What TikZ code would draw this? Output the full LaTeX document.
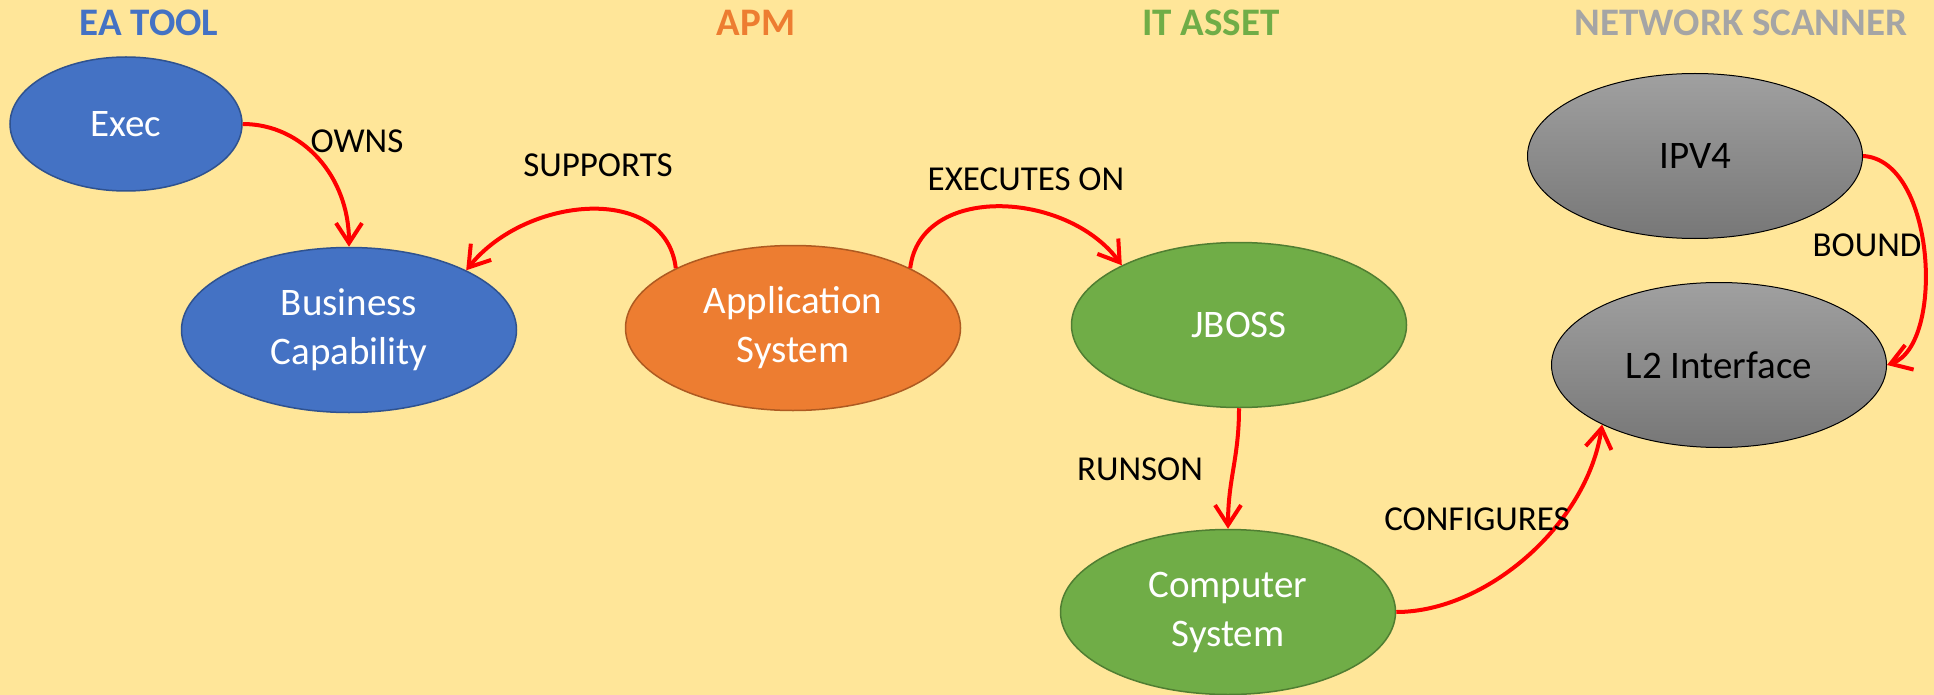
\documentclass[tikz,border=0pt]{standalone}
\usepackage{fontspec}
\setmainfont{Carlito}
\usetikzlibrary{shapes.geometric,arrows.meta}
\definecolor{bg}{HTML}{FFE699}
\definecolor{eblue}{HTML}{4472C4}
\definecolor{eblueb}{HTML}{2F528F}
\definecolor{eorange}{HTML}{ED7D31}
\definecolor{eorangeb}{HTML}{AE5A21}
\definecolor{egreen}{HTML}{70AD47}
\definecolor{egreenb}{HTML}{507E32}
\definecolor{egray}{HTML}{A5A5A5}
\definecolor{gtop}{HTML}{A0A0A0}
\definecolor{gbot}{HTML}{777777}
\begin{document}
\begin{tikzpicture}[x=1pt,y=-1pt,
  ent/.style={ellipse, inner sep=0pt, minimum width=335pt, minimum height=165pt,
    line width=1.5pt, align=center, font=\fontsize{39}{49}\selectfont, text=white},
  blueent/.style={ent, fill=eblue, draw=eblueb},
  orangeent/.style={ent, fill=eorange, draw=eorangeb},
  greenent/.style={ent, fill=egreen, draw=egreenb},
  grayent/.style={ent, top color=gtop, bottom color=gbot, draw=black, line width=1pt, text=black},
  rel/.style={draw=red, line width=4pt, -{Straight Barb[length=20pt,width=26pt]}},
  rellabel/.style={anchor=base, font=\fontsize{35}{42}\selectfont, inner sep=0pt},
  title/.style={anchor=base, font=\fontsize{39}{47}\selectfont\bfseries, inner sep=0pt}
]
\fill[bg] (0,0) rectangle (1934,695);
\useasboundingbox (0,0) rectangle (1934,695);

\node[title, text=eblue] (t1) at (149,36) {EA TOOL};
\node[title, text=eorange] (t2) at (756,36) {APM};
\node[title, text=egreen] (t3) at (1211,36) {IT ASSET};
\node[title, text=egray] (t4) at (1741,36) {NETWORK SCANNER};

\node[blueent, minimum width=232pt, minimum height=134pt] (exec) at (126,124) {Exec};
\node[blueent] (bc) at (349,330) {Business\\Capability};
\node[orangeent] (app) at (793,328) {Application\\System};
\node[greenent] (jb) at (1239,325) {JBOSS};
\node[greenent] (cs) at (1228,612) {Computer\\System};
\node[grayent] (ip) at (1695,156) {IPV4};
\node[grayent] (l2) at (1719,365) {L2 Interface};

\draw[rel] (exec.east) .. controls +(60,0) and +(0,-70) .. (bc.north);
\draw[rel] (app.153) .. controls +(-10,-85) and +(60,-75) .. (bc.27);
\draw[rel] (app.27) .. controls +(10,-85) and +(-55,-75) .. (jb.153);
\draw[rel] (jb.south) .. controls +(0,50) and +(0,-50) .. (cs.north);
\draw[rel] (cs.east) .. controls +(90,0) and +(-15,100) .. (l2.207);
\draw[rel] (ip.east) .. controls +(73,4) and +(58,-20) .. (l2.east);

\node[rellabel] (owns) at (357,153) {OWNS};
\node[rellabel] (supports) at (598,177) {SUPPORTS};
\node[rellabel] (execon) at (1026,190) {EXECUTES ON};
\node[rellabel] (runson) at (1140,480) {RUNSON};
\node[rellabel] (config) at (1477,530) {CONFIGURES};
\node[rellabel] (bound) at (1867,256) {BOUND};
\end{tikzpicture}
\end{document}
